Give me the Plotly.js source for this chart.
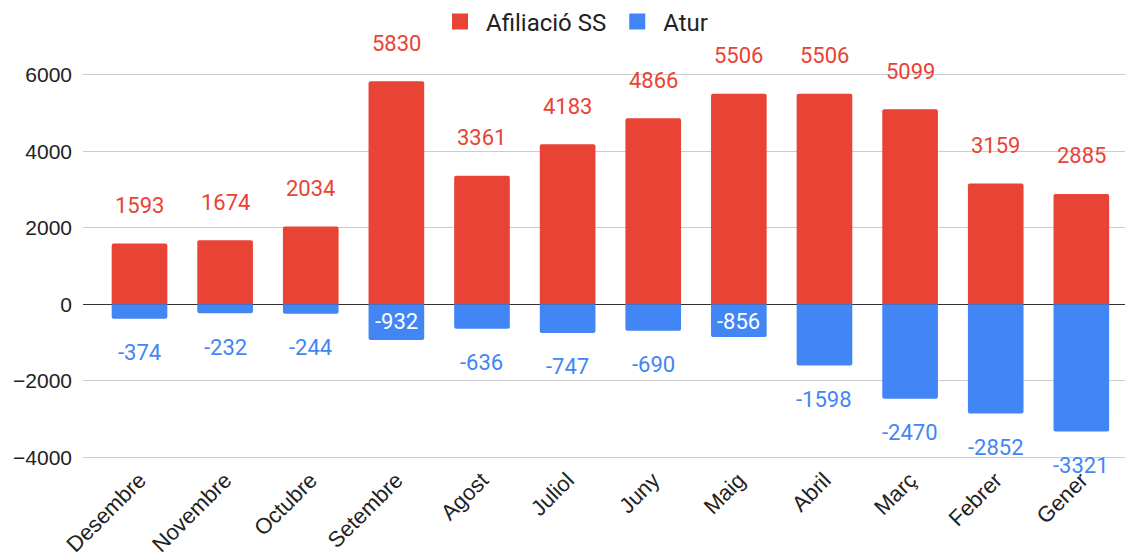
<!DOCTYPE html>
<html>
<head>
<meta charset="utf-8">
<script src="https://cdn.plot.ly/plotly-3.0.1.min.js"></script>
<style>html,body{margin:0;padding:0;background:#fff;}#chart{width:1129px;height:560px;}</style>
</head>
<body>
<div id="chart"></div>
<script>
var months = ["Desembre","Novembre","Octubre","Setembre","Agost","Juliol","Juny","Maig","Abril","Març","Febrer","Gener"];
var afiliacio = [1593,1674,2034,5830,3361,4183,4866,5506,5506,5099,3159,2885];
var atur = [-374,-232,-244,-932,-636,-747,-690,-856,-1598,-2470,-2852,-3321];
var insideLabels = ["Setembre","Maig"];
var seriesNames = ["Afiliació SS","Atur"];

var RED = "#E94335", BLUE = "#4285F4";

var traces = [
  {type:"bar", name:seriesNames[0], x:months, y:afiliacio, marker:{color:RED, cornerradius:2}, showlegend:false, legendgroup:"a"},
  {type:"bar", name:seriesNames[1], x:months, y:atur, marker:{color:BLUE}, showlegend:false, legendgroup:"b"},
  {type:"scatter", mode:"markers", name:seriesNames[0], x:[null], y:[null], legendgroup:"a",
    marker:{symbol:"square", size:23, color:RED}},
  {type:"scatter", mode:"markers", name:seriesNames[1], x:[null], y:[null], legendgroup:"b",
    marker:{symbol:"square", size:23, color:BLUE}}
];

var ann = [];
months.forEach(function(m,i){
  ann.push({x:m, y:afiliacio[i], xref:"x", yref:"y", text:String(afiliacio[i]), showarrow:false,
    yanchor:"middle", yshift:38, font:{family:"Roboto", size:22, color:RED}});
  var inside = insideLabels.indexOf(m) >= 0;
  ann.push({x:m, y:inside ? 0 : atur[i], xref:"x", yref:"y", text:String(atur[i]), showarrow:false,
    yanchor:"middle", yshift: inside ? -17 : -34,
    font:{family:"Roboto", size:22, color: inside ? "#ffffff" : BLUE}});
});

var layout = {
  width:1129, height:560,
  margin:{l:83, r:4, t:40, b:98},
  paper_bgcolor:"#fff", plot_bgcolor:"#fff",
  barmode:"relative", bargap:0.35,
  showlegend:true,
  legend:{orientation:"h", xref:"container", yref:"container", x:0.508, xanchor:"center", y:0.961, yanchor:"middle",
    font:{family:"Roboto", size:24, color:"#222"}, itemwidth:42, traceorder:"normal"},
  xaxis:{type:"category", range:[-0.66, 11.51], tickangle:-45, showgrid:false, zeroline:false, showline:false,
    ticks:"", tickfont:{family:"Liberation Sans, Arial", size:22, color:"#222"}, automargin:false, fixedrange:true},
  yaxis:{range:[-4121, 6797], tick0:0, dtick:2000, showgrid:true, gridcolor:"#cccccc", gridwidth:1,
    zeroline:true, zerolinecolor:"#333333", zerolinewidth:1.5, showline:false, ticks:"",
    ticklabelstandoff:10,
    tickfont:{family:"Liberation Sans, Arial", size:21, color:"#222"}, automargin:false, fixedrange:true},
  annotations:ann
};

Plotly.newPlot("chart", traces, layout, {displayModeBar:false, staticPlot:true});
</script>
</body>
</html>
